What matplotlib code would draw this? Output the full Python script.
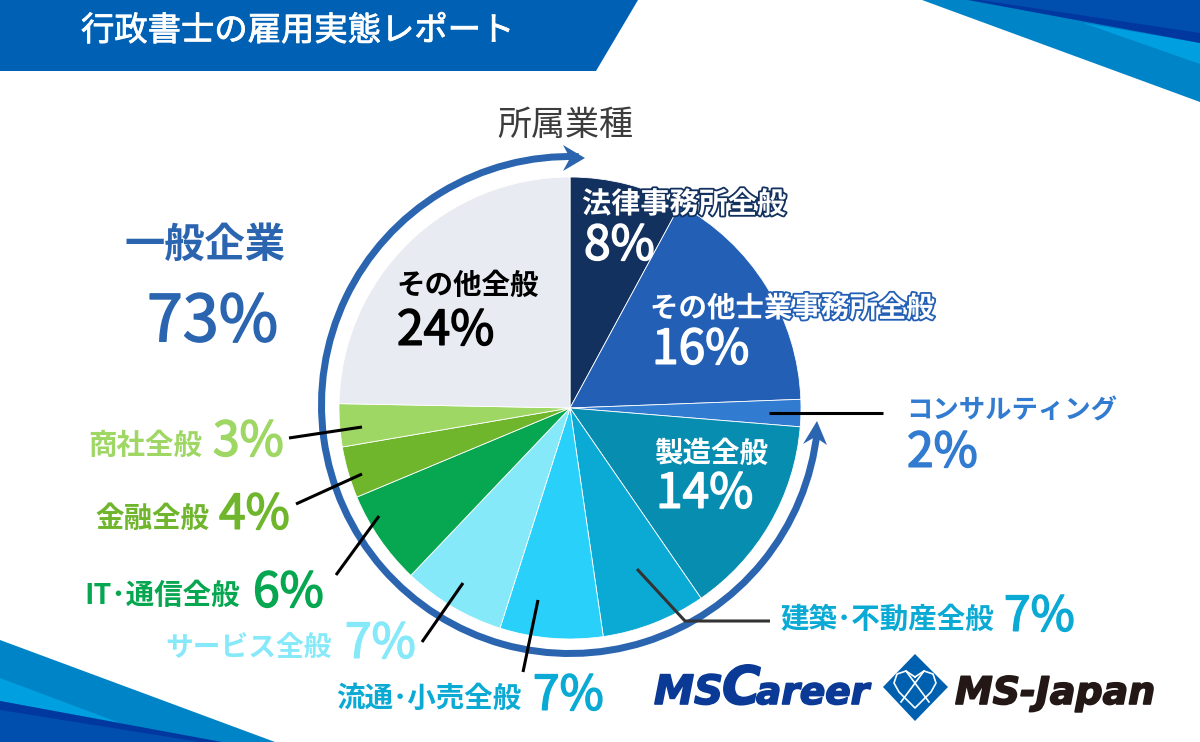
import matplotlib
matplotlib.use("Agg")
import matplotlib.pyplot as plt
import matplotlib.patheffects as pe
from matplotlib.patches import Polygon, Wedge

plt.rcParams['font.family'] = ['Noto Sans CJK JP', 'DejaVu Sans']

names = ['法律事務所全般', 'その他士業事務所全般', 'コンサルティング', '製造全般', '建築･不動産全般',
         '流通･小売全般', 'サービス全般', 'IT･通信全般', '金融全般', '商社全般', 'その他全般']
shares = [7.9, 16.5, 1.9, 14.1, 7.3, 7.2, 7.2, 6.6, 3.6, 3.0, 24.7]
pct = ['8%', '16%', '2%', '14%', '7%', '7%', '7%', '6%', '4%', '3%', '24%']
colors = ['#12315f', '#225fb5', '#317bd0', '#068db0', '#0aaad4', '#29d0f9',
          '#86e9f9', '#07a650', '#6fb62c', '#9ed764', '#e8ebf1']

title = '行政書士の雇用実態レポート'
group_title = '所属業種'
group_name = '一般企業'
group_pct = '73%'

fig = plt.figure(figsize=(12, 7.42), dpi=100)
ax = fig.add_axes([0, 0, 1, 1])

# y axis runs downwards so everything below is in picture pixels
ax.pie(shares, colors=colors, center=(570, 408), radius=231, startangle=-90, counterclock=True,
       frame=True, wedgeprops={'edgecolor': 'white', 'linewidth': 0.6})
ax.set_xlim(0, 1200)
ax.set_ylim(742, 0)
ax.set_aspect('auto')
ax.axis('off')


def poly(points, color, z=1):
    ax.add_patch(Polygon(points, closed=True, facecolor=color, edgecolor='none', zorder=z))


def label(x, y, text, size, color, weight='bold', stroke=None, z=6):
    t = ax.text(x, y + 5, text, fontsize=size, color=color, fontweight=weight, ha='left', va='center', zorder=z)
    if stroke:
        t.set_path_effects([pe.withStroke(linewidth=2.6, foreground=stroke)])
    return t


def number(x, y, text, size, color):
    # regular weight thickened a little, the bold cut is too heavy here
    t = ax.text(x, y + 9, text, fontsize=size, color=color, fontweight='regular', ha='left', va='center', zorder=6)
    t.set_path_effects([pe.withStroke(linewidth=1.1, foreground=color)])
    return t


def leader(points, color='black', lw=2.2):
    ax.plot([p[0] for p in points], [p[1] for p in points], color=color, lw=lw,
            solid_capstyle='butt', solid_joinstyle='miter', zorder=5)


# header and corner decoration
poly([(0, 0), (638, 0), (596, 71), (0, 71)], '#0060b4')
t = label(81, 26, title, 24, 'white', weight='regular')
t.set_path_effects([pe.withStroke(linewidth=0.6, foreground='white')])

poly([(922, 0), (1200, 0), (1200, 102)], '#0084c8')
poly([(1083, 23), (1200, 43), (1200, 64)], '#009fdf')
poly([(968, 0), (1200, 0), (1200, 43)], '#0038a0')
poly([(980, 0), (1200, 0), (1200, 33)], '#004fae')

poly([(0, 640), (275, 742), (0, 742)], '#0084c8')
poly([(0, 678), (120, 723), (0, 701)], '#009fdf')
poly([(0, 701), (222, 742), (0, 742)], '#0038a0')
poly([(0, 710), (200, 742), (0, 742)], '#004fae')

# arc round the pie with its two arrow heads
arc_color = '#2b65b0'
ax.add_patch(Wedge((570, 405), 252, 6, 272, width=7, facecolor=arc_color, edgecolor='none', zorder=3))
poly([(585, 158), (563, 145), (570, 158), (563, 171)], arc_color, z=3)
poly([(817, 421), (803, 444), (815, 437), (827, 445)], arc_color, z=3)

# leader lines
leader([(769, 413), (883, 413)])
leader([(637, 569), (685, 621), (770, 621)], color='#333333')
leader([(538, 600), (523, 672)])
leader([(463, 583), (422, 642)])
leader([(379, 516), (336, 575)])
leader([(362, 474), (296, 504)])
leader([(362, 427), (289, 438)])

# titles
label(497, 120, group_title, 24.5, '#3c3c3c', weight='regular')
label(125, 240, group_name, 29, arc_color)
number(147, 314, group_pct, 46.5, arc_color)

# labels inside the pie
label(582, 199, names[0], 21, 'white', stroke=colors[0])
number(584, 237, pct[0], 34.5, 'white')
label(650, 304, names[1], 20.5, 'white', stroke=colors[1])
number(652, 341, pct[1], 34.5, 'white')
label(396, 281, names[10], 20.5, 'black')
number(397, 322, pct[10], 34.5, 'black')
label(654, 449, names[3], 20.5, 'white')
number(656, 485, pct[3], 34.5, 'white')

# labels outside the pie
label(906, 406, names[2], 19, colors[2])
number(907, 444, pct[2], 34.5, colors[2])
label(780, 615, names[4], 20.5, colors[4])
number(1004, 608, pct[4], 34.5, colors[4])
label(336, 694, names[5], 20.5, colors[4])
number(533, 687, pct[5], 34.5, colors[4])
label(165, 643, names[6], 20, colors[6])
number(345, 635, pct[6], 34.5, colors[6])
label(84, 591, names[7], 20.5, colors[7])
number(253, 584, pct[7], 34.5, colors[7])
label(95, 514, names[8], 20.5, colors[8])
number(219, 506, pct[8], 34.5, colors[8])
label(88, 441, names[9], 20.5, colors[9])
number(213, 433, pct[9], 34.5, colors[9])


# logos
def logo(x, text, size, color):
    t = ax.text(x, 704, text, fontsize=size, color=color, fontweight='bold', fontstyle='oblique',
                family='DejaVu Sans', ha='left', va='baseline', zorder=6)
    t.set_path_effects([pe.withStroke(linewidth=1.2, foreground=color)])


logo(654, 'MS', 29, '#0a3a96')
logo(722, 'C', 38, '#0a3a96')
logo(756, 'areer', 27, '#0a3a96')
logo(955, 'MS-Japan', 27.3, '#231815')

poly([(915, 654), (948, 687), (915, 721), (883, 687)], '#0060b0')
heart = [(915, 677), (906, 671), (897, 674), (894, 683), (899, 692), (915, 708),
         (931, 692), (936, 683), (933, 674), (924, 671), (915, 677)]
ax.plot([p[0] for p in heart], [p[1] for p in heart], color='white', lw=1.2, zorder=7)
ax.plot([906, 929], [671, 702], color='white', lw=1.2, zorder=7)
ax.plot([924, 901], [671, 702], color='white', lw=1.2, zorder=7)

fig.savefig('out.png', dpi=100, facecolor='white')
